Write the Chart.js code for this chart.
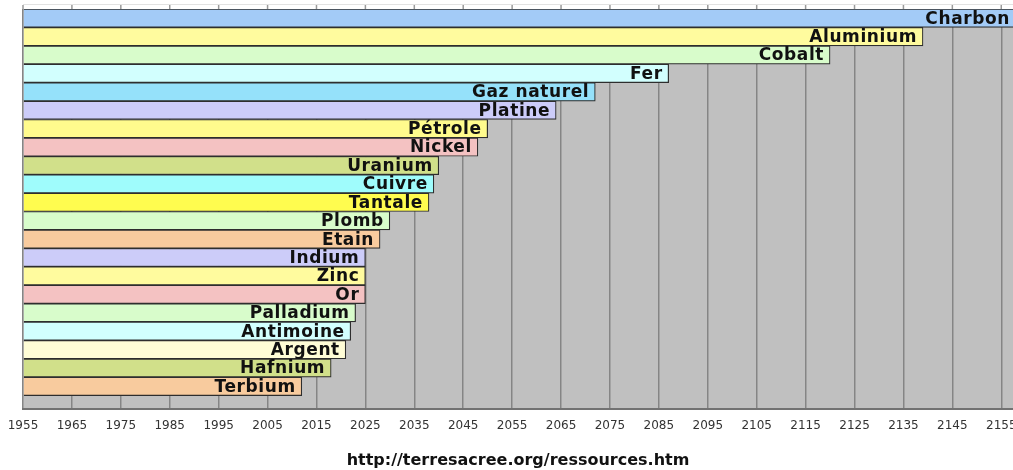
<!DOCTYPE html>
<html>
<head>
<meta charset="utf-8">
<script src="https://cdn.jsdelivr.net/npm/chart.js@4/dist/chart.umd.min.js"></script>
<style>
  html,body{margin:0;padding:0;background:#fff;}
  #wrap{width:1013px;height:470px;position:relative;}
</style>
</head>
<body>
<div id="wrap"><canvas id="c"></canvas></div>
<script>
// years when each resource runs out
const NAMES = ['Charbon','Aluminium','Cobalt','Fer','Gaz naturel','Platine','Pétrole','Nickel','Uranium','Cuivre','Tantale','Plomb','Etain','Indium','Zinc','Or','Palladium','Antimoine','Argent','Hafnium','Terbium'];
const YEARS = [2158,2139,2120,2087,2072,2064,2050,2048,2040,2039,2038,2030,2028,2025,2025,2025,2023,2022,2021,2018,2012];
const COLORS = ['#a3cbf7','#fffb9e','#d8fccb','#d2fffe','#95e1fa','#ccccf9','#fffb8d','#f4c2c2','#d1e08a','#9ffcfc','#fffc4f','#d8fccb','#f8cb9e','#ccccf9','#fffb9e','#f4c2c2','#d8fccb','#d2fffe','#fffdd6','#d1e08a','#f8cb9e'];
const TICK_YEARS = [1955,1965,1975,1985,1995,2005,2015,2025,2035,2045,2055,2065,2075,2085,2095,2105,2115,2125,2135,2145,2155];
const START_YEAR = 1955;
const END_YEAR = 2157.4;
const SOURCE = 'http://terresacree.org/ressources.htm';

const bgPlugin = {
  id:'bg',
  beforeDraw(chart){
    const {ctx, chartArea:a} = chart;
    const xs = chart.scales.x;
    ctx.save();
    ctx.fillStyle = '#fff'; ctx.fillRect(0,0,chart.width,chart.height);
    ctx.fillStyle = '#c0c0c0'; ctx.fillRect(a.left,a.top,a.right-a.left,a.bottom-a.top);
    // little ticks above the plot
    ctx.strokeStyle = '#e2e2e2'; ctx.lineWidth = 1;
    ctx.beginPath(); ctx.moveTo(a.left,a.top-4.5); ctx.lineTo(a.right,a.top-4.5); ctx.stroke();
    ctx.strokeStyle = '#9a9a9a'; ctx.lineWidth = 1.5;
    xs.ticks.forEach(t=>{
      const px = xs.getPixelForValue(t.value);
      ctx.beginPath(); ctx.moveTo(px,a.top-4); ctx.lineTo(px,a.top); ctx.stroke();
    });
    ctx.restore();
  }
};

const labelPlugin = {
  id:'barLabels',
  afterDatasetsDraw(chart){
    const {ctx} = chart;
    const meta = chart.getDatasetMeta(0);
    ctx.save();
    ctx.font = 'bold 17px "DejaVu Sans"';
    ctx.letterSpacing = '0.6px';
    ctx.fillStyle = '#111';
    ctx.textAlign = 'right';
    ctx.textBaseline = 'middle';
    meta.data.forEach((el,i)=>{
      ctx.fillText(NAMES[i], el.x - 6, el.y + 1);
    });
    ctx.restore();
  }
};

new Chart(document.getElementById('c'), {
  type:'bar',
  data:{
    datasets:[{
      data: NAMES.map((n,i)=>({x:YEARS[i], y:i})),
      base: START_YEAR,
      backgroundColor: COLORS,
      borderColor:'#2e2e2e',
      borderWidth:1.2,
      barPercentage:1,
      categoryPercentage:1
    }]
  },
  options:{
    indexAxis:'y',
    responsive:true,
    maintainAspectRatio:false,
    animation:false,
    layout:{padding:{top:9,left:23,right:0,bottom:0}},
    scales:{
      x:{
        type:'linear',
        min:START_YEAR, max:END_YEAR,
        beginAtZero:false,
        afterBuildTicks(s){ s.ticks = TICK_YEARS.map(v=>({value:v})); },
        afterFit(s){ s.paddingLeft = 0; s.paddingRight = 0; },
        grid:{color:'#858585', lineWidth:1.5, drawTicks:false},
        border:{display:true, color:'#727272', width:2},
        ticks:{padding:9, color:'#333', font:{family:'DejaVu Sans', size:12}, maxRotation:0, autoSkip:false,
          callback:v=>String(v)}
      },
      y:{
        type:'linear',
        display:false,
        offset:false,
        reverse:true,
        min:-0.5, max:21.25
      }
    },
    plugins:{
      legend:{display:false},
      tooltip:{enabled:false},
      title:{
        display:true,
        position:'bottom',
        fullSize:false,
        text:SOURCE,
        color:'#111',
        font:{family:'DejaVu Sans', size:16, weight:'bold'},
        padding:{top:9, bottom:0}
      }
    }
  },
  plugins:[bgPlugin, labelPlugin]
});
</script>
</body>
</html>
